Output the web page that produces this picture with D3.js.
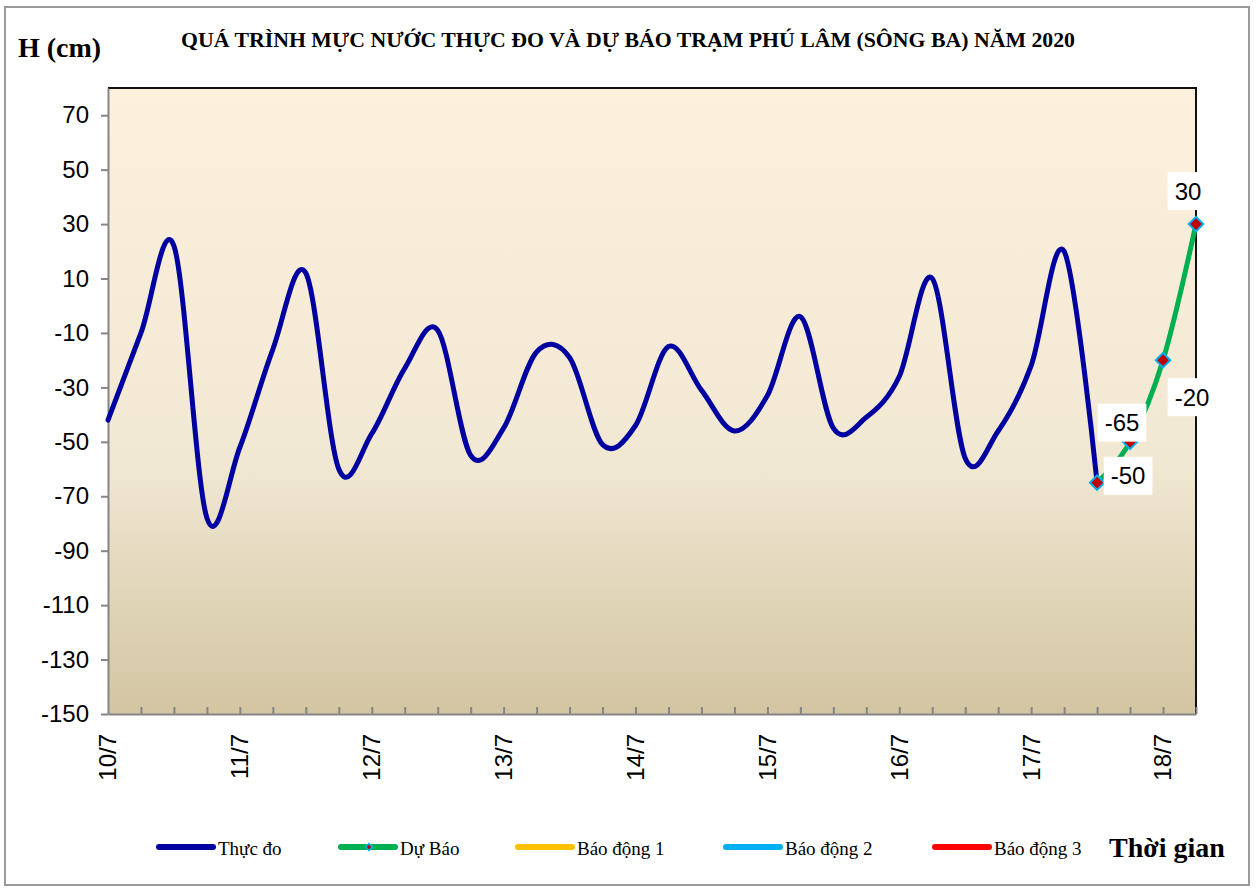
<!DOCTYPE html>
<html>
<head>
<meta charset="utf-8">
<script src="https://cdn.jsdelivr.net/npm/d3@7"></script>
<style>
	body { margin: 0; background: #fff; }
	svg { display: block; }
</style>
</head>
<body>
<div id="chart"></div>
<script>
// Data
//---------
var days = ["10/7", "11/7", "12/7", "13/7", "14/7", "15/7", "16/7", "17/7", "18/7"];
var slots = ["01h", "07h", "13h", "19h"];
var observed = [-42, -10, 22, -78, -52, -16, 12, -60, -47, -23, -9, -55, -45, -17, -19, -51,
	-44, -15, -31, -46, -33, -4, -45, -41, -26, 10, -56, -46, -22, 20, -65];
var forecast = [-65, -50, -20, 30];
var forecastStart = 30;
var yTicks = [70, 50, 30, 10, -10, -30, -50, -70, -90, -110, -130, -150];
var legendNames = ["Thực đo", "Dự Báo", "Báo động 1", "Báo động 2", "Báo động 3"];

// categories every 6 hours, 34 of them
var categories = [];
days.forEach(function(d) {
	slots.forEach(function(s) { categories.push(d + " " + s); });
});
categories = categories.slice(0, 34);

// Setup
//---------
var W = 1257, H = 888;
var plotL = 108, plotR = 1196, plotT = 88, plotB = 714;
var serif = "'Liberation Serif','Times New Roman',serif";
var sans = "'Liberation Sans',Arial,sans-serif";

var svg = d3.select("#chart").append("svg")
	.attr("width", W)
	.attr("height", H);

var x = d3.scalePoint().domain(categories).range([plotL, plotR]);
var y = d3.scaleLinear().domain([-150, 80]).range([plotB, plotT]);

//-- Outer frame
svg.append("rect")
	.attr("x", 5).attr("y", 7)
	.attr("width", 1244).attr("height", 878)
	.attr("fill", "none")
	.attr("stroke", "#9a9a9a")
	.attr("stroke-width", 2);

//-- Plot background gradient
var grad = svg.append("defs").append("linearGradient")
	.attr("id", "bg")
	.attr("x1", 0).attr("y1", 0).attr("x2", 0).attr("y2", 1);
grad.append("stop").attr("offset", "0%").attr("stop-color", "#fdf0dc");
grad.append("stop").attr("offset", "60%").attr("stop-color", "#f1e8d3");
grad.append("stop").attr("offset", "100%").attr("stop-color", "#d3c5a2");

svg.append("rect")
	.attr("x", plotL).attr("y", plotT)
	.attr("width", plotR - plotL).attr("height", plotB - plotT)
	.attr("fill", "url(#bg)");

//-- Top and right borders
svg.append("path")
	.attr("d", "M" + plotL + "," + plotT + "H" + plotR + "V" + plotB)
	.attr("fill", "none")
	.attr("stroke", "#111")
	.attr("stroke-width", 2);

// Axes
//---------
var yAxis = svg.append("g")
	.attr("transform", "translate(" + plotL + ",0)")
	.call(d3.axisLeft(y).tickValues(yTicks).tickSize(7).tickSizeOuter(0)
		.tickFormat(function(d) { return String(d); }));
yAxis.select(".domain").attr("stroke", "#858585").attr("stroke-width", 2);
yAxis.selectAll(".tick line").attr("stroke", "#858585").attr("stroke-width", 2);
yAxis.selectAll(".tick text")
	.attr("x", -19)
	.attr("font-family", sans)
	.attr("font-size", 24)
	.attr("fill", "#000");

var xAxis = svg.append("g")
	.attr("transform", "translate(0," + plotB + ")")
	.call(d3.axisBottom(x).tickValues(categories.slice(1)).tickSize(-7).tickSizeOuter(0)
		.tickFormat(""));
xAxis.select(".domain").attr("stroke", "#858585").attr("stroke-width", 2);
xAxis.selectAll(".tick line").attr("stroke", "#858585").attr("stroke-width", 2);

//-- Day labels, rotated
svg.append("g").selectAll("text")
	.data(days)
	.enter().append("text")
	.attr("transform", function(d) { return "translate(" + x(d + " " + slots[0]) + ",734) rotate(-90)"; })
	.attr("text-anchor", "end")
	.attr("dy", "0.35em")
	.attr("font-family", sans)
	.attr("font-size", 24)
	.attr("fill", "#000")
	.text(function(d) { return d; });

// Lines
//---------
var line = d3.line()
	.x(function(d) { return x(d.t); })
	.y(function(d) { return y(d.v); })
	.curve(d3.curveCardinal.tension(0));

var obsData = observed.map(function(v, i) { return { t: categories[i], v: v }; });
var fcData = forecast.map(function(v, i) { return { t: categories[forecastStart + i], v: v }; });

svg.append("path")
	.datum(fcData)
	.attr("d", line)
	.attr("fill", "none")
	.attr("stroke", "#00b050")
	.attr("stroke-width", 5)
	.attr("stroke-linecap", "round");

svg.append("path")
	.datum(obsData)
	.attr("d", line)
	.attr("fill", "none")
	.attr("stroke", "#0000a0")
	.attr("stroke-width", 5)
	.attr("stroke-linecap", "round")
	.attr("stroke-linejoin", "round");

//-- Forecast markers
var diamond = d3.symbol().type(d3.symbolSquare).size(105);
svg.append("g").selectAll("path")
	.data(fcData)
	.enter().append("path")
	.attr("d", diamond)
	.attr("transform", function(d) { return "translate(" + x(d.t) + "," + y(d.v) + ") rotate(45)"; })
	.attr("fill", "#c00000")
	.attr("stroke", "#00b0f0")
	.attr("stroke-width", 2);

//-- Data labels (offsets from their point)
var labelOffset = [[25, -60], [-2, 34], [29, 37], [-8, -33]];
var labels = svg.append("g").selectAll("g")
	.data(fcData)
	.enter().append("g")
	.attr("transform", function(d, i) {
		return "translate(" + (x(d.t) + labelOffset[i][0]) + "," + (y(d.v) + labelOffset[i][1]) + ")";
	});
labels.append("text")
	.attr("text-anchor", "middle")
	.attr("dy", "0.36em")
	.attr("font-family", sans)
	.attr("font-size", 24)
	.attr("fill", "#000")
	.text(function(d) { return String(d.v); })
	.each(function() {
		var b = this.getBBox();
		d3.select(this.parentNode).insert("rect", "text")
			.attr("x", b.x - 7).attr("y", -19)
			.attr("width", b.width + 14).attr("height", 38)
			.attr("fill", "#fff");
	});

// Texts
//---------
svg.append("text")
	.attr("x", 18).attr("y", 57)
	.attr("font-family", serif)
	.attr("font-weight", "bold")
	.attr("font-size", 28)
	.text("H (cm)");

svg.append("text")
	.attr("x", 628).attr("y", 47)
	.attr("text-anchor", "middle")
	.attr("font-family", serif)
	.attr("font-weight", "bold")
	.attr("font-size", 20)
	.attr("textLength", 894)
	.attr("lengthAdjust", "spacingAndGlyphs")
	.text("QUÁ TRÌNH MỰC NƯỚC THỰC ĐO VÀ DỰ BÁO TRẠM  PHÚ LÂM (SÔNG BA) NĂM 2020");

svg.append("text")
	.attr("x", 1109).attr("y", 857)
	.attr("font-family", serif)
	.attr("font-weight", "bold")
	.attr("font-size", 28)
	.text("Thời gian");

// Legend
//---------
var legendColors = ["#0000a0", "#00b050", "#ffc000", "#00b0f0", "#ff0000"];
var legendX = [159, 341, 518, 726, 935];
var legend = svg.append("g").selectAll("g")
	.data(legendNames)
	.enter().append("g")
	.attr("transform", function(d, i) { return "translate(" + legendX[i] + ",847)"; });
legend.append("line")
	.attr("x1", 0).attr("x2", 54)
	.attr("stroke", function(d, i) { return legendColors[i]; })
	.attr("stroke-width", 6)
	.attr("stroke-linecap", "round");
legend.filter(function(d, i) { return i === 1; }).append("path")
	.attr("d", d3.symbol().type(d3.symbolSquare).size(22))
	.attr("transform", "translate(28,0) rotate(45)")
	.attr("fill", "#c00000")
	.attr("stroke", "#00b0f0")
	.attr("stroke-width", 1.5);
legend.append("text")
	.attr("x", 59).attr("y", 8)
	.attr("font-family", serif)
	.attr("font-size", 19)
	.text(function(d) { return d; });
</script>
</body>
</html>
